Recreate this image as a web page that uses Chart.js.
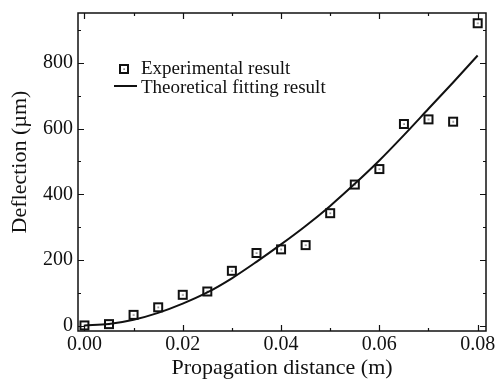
<!DOCTYPE html>
<html>
<head>
<meta charset="utf-8">
<title>Deflection vs propagation distance</title>
<script src="https://cdn.jsdelivr.net/npm/chart.js@4"></script>
<style>
  html, body { margin: 0; padding: 0; background: #fff; }
  #wrap { width: 497px; height: 383px; }
</style>
</head>
<body>
<div id="wrap"><canvas id="deflectionChart" width="497" height="383"></canvas></div>
<script>
// Values

const expDistance = [0, 0.005, 0.01, 0.015, 0.02, 0.025, 0.03, 0.035, 0.04, 0.045, 0.05, 0.055, 0.06, 0.065, 0.07, 0.075, 0.08];
const expDeflection = [2, 6, 34, 57, 95, 105, 168, 222, 233, 246, 343, 430, 477, 614, 628, 621, 920];

const fitDistance = [0, 0.005, 0.01, 0.015, 0.02, 0.025, 0.03, 0.035, 0.04, 0.045, 0.05, 0.055, 0.06, 0.065, 0.07, 0.075, 0.08];
const fitDeflection = [2, 6, 19, 40, 68, 102, 145, 195, 248, 304, 365, 432, 503, 580, 660, 740, 822];

const xTickValues = [0, 0.01, 0.02, 0.03, 0.04, 0.05, 0.06, 0.07, 0.08];
const yTickValues = [0, 100, 200, 300, 400, 500, 600, 700, 800, 900];

const legendLabels = ['Experimental result', 'Theoretical fitting result'];

const SERIF = '"Liberation Serif", "Times New Roman", serif';

// hollow square with a dot in the middle
function makeMarker() {
  const c = document.createElement('canvas');
  c.width = 12; c.height = 12;
  const g = c.getContext('2d');
  g.strokeStyle = '#111';
  g.lineWidth = 2;
  g.strokeRect(2, 2, 8, 8);
  g.fillStyle = '#111';
  g.fillRect(5.5, 5.5, 1.2, 1.2);
  return c;
}
const marker = makeMarker();

const isMajorX = v => Math.round(v * 100) % 2 === 0;
const isMajorY = v => Math.round(v) % 200 === 0 && v <= 800;

// frame, inner ticks on all four sides, legend and y title
const framePlugin = {
  id: 'frame',
  afterDraw(chart) {
    const ctx = chart.ctx;
    const a = chart.chartArea;
    const xs = chart.scales.x;
    const ys = chart.scales.y;
    ctx.save();
    ctx.strokeStyle = '#111';
    ctx.lineWidth = 1.5;
    ctx.strokeRect(a.left, a.top, a.right - a.left, a.bottom - a.top);

    ctx.lineWidth = 1.2;
    ctx.beginPath();
    xs.ticks.forEach(t => {
      const px = Math.round(xs.getPixelForValue(t.value)) + 0.5;
      const len = isMajorX(t.value) ? 6 : 3;
      ctx.moveTo(px, a.bottom); ctx.lineTo(px, a.bottom - len);
      ctx.moveTo(px, a.top); ctx.lineTo(px, a.top + len);
    });
    ys.ticks.forEach(t => {
      const py = Math.round(ys.getPixelForValue(t.value)) + 0.5;
      const len = isMajorY(t.value) ? 6 : 3;
      ctx.moveTo(a.left, py); ctx.lineTo(a.left + len, py);
      ctx.moveTo(a.right, py); ctx.lineTo(a.right - len, py);
    });
    ctx.stroke();

    // legend
    ctx.fillStyle = '#111';
    ctx.font = '19px ' + SERIF;
    ctx.textBaseline = 'alphabetic';
    ctx.textAlign = 'left';
    ctx.drawImage(marker, 118, 63);
    ctx.fillText(legendLabels[0], 141, 74);
    ctx.lineWidth = 2;
    ctx.beginPath();
    ctx.moveTo(114, 86); ctx.lineTo(137, 86);
    ctx.stroke();
    ctx.fillText(legendLabels[1], 141, 93);

    // y title
    ctx.font = '22px ' + SERIF;
    ctx.translate(20, 162);
    ctx.rotate(-Math.PI / 2);
    ctx.textAlign = 'center';
    ctx.textBaseline = 'middle';
    ctx.fillText('Deflection (\u00b5m)', 0, 0);
    ctx.restore();
  }
};

Chart.defaults.font.family = SERIF;
Chart.defaults.color = '#111';

new Chart(document.getElementById('deflectionChart'), {
  type: 'scatter',
  data: {
    datasets: [
      {
        label: legendLabels[0],
        data: expDistance.map((x, i) => ({ x, y: expDeflection[i] })),
        pointStyle: marker,
        pointRadius: 6,
        showLine: false
      },
      {
        label: legendLabels[1],
        data: fitDistance.map((x, i) => ({ x, y: fitDeflection[i] })),
        showLine: true,
        borderColor: '#111',
        borderWidth: 2,
        pointRadius: 0,
        cubicInterpolationMode: 'monotone'
      }
    ]
  },
  options: {
    responsive: false,
    animation: false,
    layout: { padding: { left: 0, right: 11, top: 13, bottom: 0 } },
    plugins: {
      legend: { display: false },
      tooltip: { enabled: false }
    },
    scales: {
      x: {
        type: 'linear',
        min: -0.0013,
        max: 0.0817,
        grid: { display: false, drawTicks: false },
        border: { display: false },
        afterBuildTicks: s => { s.ticks = xTickValues.map(v => ({ value: v })); },
        afterFit: s => { s.height = 52; s.paddingLeft = 0; s.paddingRight = 0; },
        ticks: {
          autoSkip: false,
          maxRotation: 0,
          padding: 2,
          font: { size: 20 },
          callback: v => isMajorX(v) ? v.toFixed(2) : ''
        },
        title: {
          display: true,
          text: 'Propagation distance (m)',
          font: { size: 22 },
          padding: { top: 0, bottom: 2 }
        }
      },
      y: {
        type: 'linear',
        min: -15,
        max: 951,
        grid: { display: false, drawTicks: false },
        border: { display: false },
        afterBuildTicks: s => { s.ticks = yTickValues.map(v => ({ value: v })); },
        afterFit: s => { s.width = 78; s.paddingTop = 0; s.paddingBottom = 0; },
        ticks: {
          autoSkip: false,
          padding: 5,
          font: { size: 20 },
          callback: v => isMajorY(v) ? String(v) : ''
        }
      }
    }
  },
  plugins: [framePlugin]
});
</script>
</body>
</html>
